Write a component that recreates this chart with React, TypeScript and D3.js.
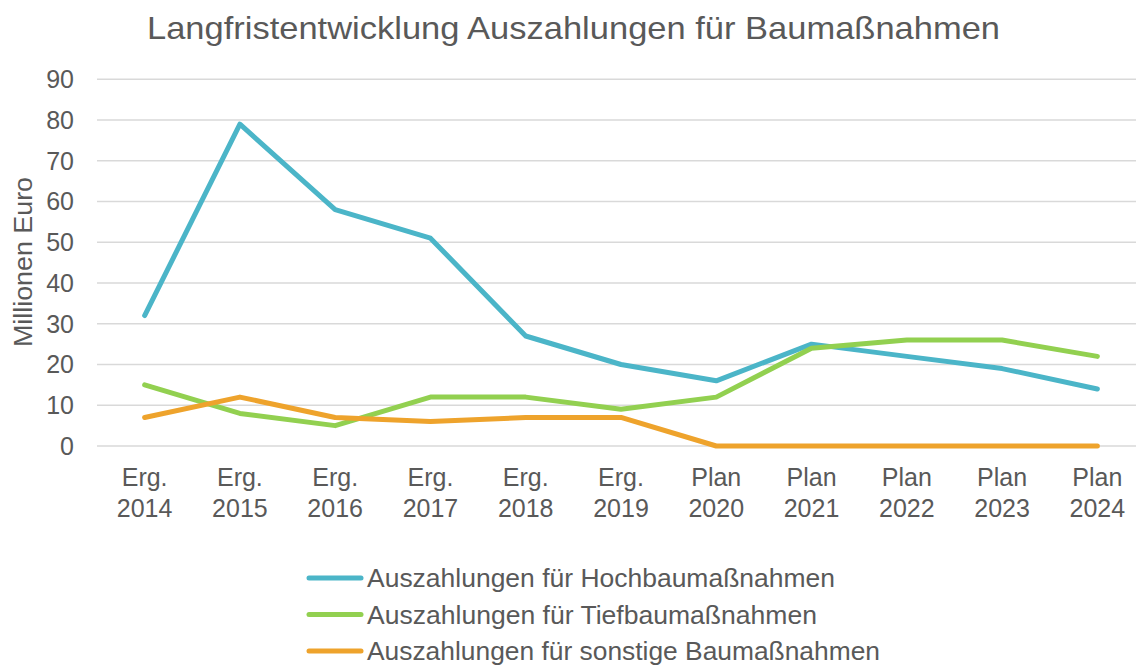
import React from "react";
import * as d3 from "d3";

const categories = ["Erg. 2014", "Erg. 2015", "Erg. 2016", "Erg. 2017", "Erg. 2018", "Erg. 2019", "Plan 2020", "Plan 2021", "Plan 2022", "Plan 2023", "Plan 2024"];
const hochbau = [32, 79, 58, 51, 27, 20, 16, 25, 22, 19, 14];
const tiefbau = [15, 8, 5, 12, 12, 9, 12, 24, 26, 26, 22];
const sonstige = [7, 12, 7, 6, 7, 7, 0, 0, 0, 0, 0];
const yTicks = [0, 10, 20, 30, 40, 50, 60, 70, 80, 90];
const seriesNames = ["Auszahlungen für Hochbaumaßnahmen", "Auszahlungen für Tiefbaumaßnahmen", "Auszahlungen für sonstige Baumaßnahmen"];
const seriesColors = ["#4BB5C8", "#92D050", "#EEA32C"];
const title = "Langfristentwicklung Auszahlungen für Baumaßnahmen";
const yTitle = "Millionen Euro";

export default function App() {
  const W = 1136, H = 666;
  const left = 97, right = 1145, top = 79.3, bottom = 446;
  const x = d3.scaleBand<string>().domain(categories).range([left, right]);
  const y = d3.scaleLinear().domain([0, 90]).range([bottom, top]);
  const font = "'Liberation Sans', Arial, sans-serif";
  const textColor = "#595959";
  const series = [hochbau, tiefbau, sonstige];
  const legendLens = [468, 450, 513];
  const line = d3.line<number>()
    .x((_, i) => (x(categories[i]) as number) + x.bandwidth() / 2)
    .y((d) => y(d));

  return (
    <svg width={W} height={H} style={{ position: "absolute", left: 0, top: 0, background: "#fff" }} fontFamily={font}>
      <text x={147} y={39} fontSize={32} fill={textColor} textLength={853} lengthAdjust="spacingAndGlyphs">{title}</text>
      {yTicks.map((t) => (
        <g key={t}>
          <line x1={left} x2={W} y1={y(t)} y2={y(t)} stroke="#D9D9D9" strokeWidth={1.5} />
          <text x={74} y={y(t)} dy="0.35em" textAnchor="end" fontSize={25} fill={textColor}>{t}</text>
        </g>
      ))}
      <text transform={`translate(32,${262}) rotate(-90)`} textAnchor="middle" fontSize={26} fill={textColor} textLength={170} lengthAdjust="spacingAndGlyphs">{yTitle}</text>
      {categories.map((c) => {
        const [a, b] = c.split(" ");
        const cx = (x(c) as number) + x.bandwidth() / 2;
        return (
          <g key={c}>
            <text x={cx} y={486} textAnchor="middle" fontSize={25} fill={textColor}>{a}</text>
            <text x={cx} y={517} textAnchor="middle" fontSize={25} fill={textColor}>{b}</text>
          </g>
        );
      })}
      {series.map((s, i) => (
        <path key={i} d={line(s) as string} fill="none" stroke={seriesColors[i]} strokeWidth={5} strokeLinecap="round" strokeLinejoin="round" />
      ))}
      {seriesNames.map((n, i) => {
        const ly = 578 + i * 36.5;
        return (
          <g key={n}>
            <line x1={309} x2={361} y1={ly} y2={ly} stroke={seriesColors[i]} strokeWidth={5} strokeLinecap="round" />
            <text x={367} y={ly} dy="0.36em" fontSize={25} fill={textColor} textLength={legendLens[i]} lengthAdjust="spacingAndGlyphs">{n}</text>
          </g>
        );
      })}
    </svg>
  );
}
